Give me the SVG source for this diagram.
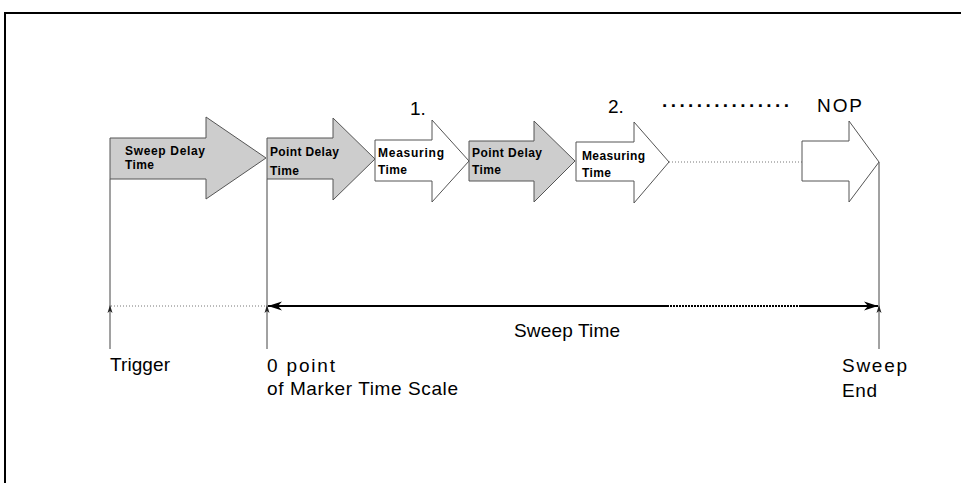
<svg xmlns="http://www.w3.org/2000/svg" width="961" height="483" viewBox="0 0 961 483">
<style>
  .lbl{font-family:"Liberation Sans",Arial,sans-serif;font-size:19px;fill:#000}
  .in{font-family:"Liberation Sans",Arial,sans-serif;font-size:12px;font-weight:bold;fill:#000}
  .arr{stroke:#555;stroke-width:1}
  .sh{fill:#cdcdcd}
  .wh{fill:#fff}
  .vl{stroke:#444;stroke-width:1;fill:none}
  .dot{stroke:#777;stroke-width:1;stroke-dasharray:1 2;fill:none}
  .ah{fill:#222}
</style>
<defs>
  <marker id="hd" markerWidth="14" markerHeight="10" refX="14" refY="5" orient="auto-start-reverse" markerUnits="userSpaceOnUse" viewBox="0 0 14 10">
    <path d="M14,5 L0,0.5 L4,5 L0,9.5 Z" fill="#000"/>
  </marker>
</defs>
<rect width="961" height="483" fill="#fff"/>
<path d="M5,483 V13 H961" fill="none" stroke="#000" stroke-width="2"/>

<g id="connectors">
  <line class="vl" x1="110" y1="179" x2="110" y2="349"/>
  <line class="vl" x1="267" y1="179" x2="267" y2="349"/>
  <line class="vl" x1="879" y1="162" x2="879" y2="349"/>
  <path class="ah" d="M110,305 L112.5,313 L110,311 L107.5,313 Z"/>
  <path class="ah" d="M267,305 L269.5,313 L267,311 L264.5,313 Z"/>
  <path class="ah" d="M879,305 L881.5,313 L879,311 L876.5,313 Z"/>
  <line class="dot" x1="111" y1="306" x2="266" y2="306"/>
  <line class="dot" x1="669" y1="162" x2="802" y2="162"/>
  <line x1="268" y1="306" x2="667" y2="306" stroke="#000" stroke-width="2" marker-start="url(#hd)"/>
  <line x1="667" y1="306" x2="800" y2="306" stroke="#000" stroke-width="2" stroke-dasharray="2 1"/>
  <line x1="800" y1="306" x2="878" y2="306" stroke="#000" stroke-width="2" marker-end="url(#hd)"/>
</g>

<g id="sweep-delay">
  <path class="arr sh" d="M110,138 H206 V117 L266,158 L206,199 V179 H110 Z"/>
  <text class="in" x="125" y="155" textLength="80" lengthAdjust="spacing">Sweep Delay</text>
  <text class="in" x="125" y="169" textLength="29" lengthAdjust="spacing">Time</text>
</g>
<g id="point-delay-1">
  <path class="arr sh" d="M267,138 H333 V118 L375,159 L333,200 V179 H267 Z"/>
  <text class="in" x="270" y="156" textLength="69" lengthAdjust="spacing">Point Delay</text>
  <text class="in" x="270" y="175" textLength="29" lengthAdjust="spacing">Time</text>
</g>
<g id="measuring-1">
  <path class="arr wh" d="M375,140 H432 V120 L469,161 L432,202 V181 H375 Z"/>
  <text class="in" x="378" y="157" textLength="66" lengthAdjust="spacing">Measuring</text>
  <text class="in" x="378" y="174" textLength="29" lengthAdjust="spacing">Time</text>
  <text class="lbl" x="410" y="115">1.</text>
</g>
<g id="point-delay-2">
  <path class="arr sh" d="M469,141 H534 V121 L575,161 L534,202 V181 H469 Z"/>
  <text class="in" x="472" y="157" textLength="70" lengthAdjust="spacing">Point Delay</text>
  <text class="in" x="472" y="174" textLength="29" lengthAdjust="spacing">Time</text>
</g>
<g id="measuring-2">
  <path class="arr wh" d="M576,142 H634 V122 L669,162 L634,203 V181 H576 Z"/>
  <text class="in" x="582" y="160" textLength="63" lengthAdjust="spacing">Measuring</text>
  <text class="in" x="582" y="177" textLength="29" lengthAdjust="spacing">Time</text>
  <text class="lbl" x="608" y="113">2.</text>
</g>
<g id="ellipsis">
  <text class="lbl" x="662" y="107" font-weight="bold" textLength="127" lengthAdjust="spacing">...............</text>
</g>
<g id="nop">
  <path class="arr wh" d="M802,141 H849 V121 L879,162 L849,202 V181 H802 Z"/>
  <text class="lbl" x="817" y="112" textLength="45" lengthAdjust="spacing">NOP</text>
</g>

<g id="labels">
  <text class="lbl" x="110" y="371" textLength="60" lengthAdjust="spacing">Trigger</text>
  <text class="lbl" x="267" y="372" textLength="68" lengthAdjust="spacing">0 point</text>
  <text class="lbl" x="267" y="395" textLength="191" lengthAdjust="spacing">of Marker Time Scale</text>
  <text class="lbl" x="514" y="337" textLength="106" lengthAdjust="spacing">Sweep Time</text>
  <text class="lbl" x="842" y="372" textLength="65" lengthAdjust="spacing">Sweep</text>
  <text class="lbl" x="842" y="397" textLength="35" lengthAdjust="spacing">End</text>
</g>
</svg>
